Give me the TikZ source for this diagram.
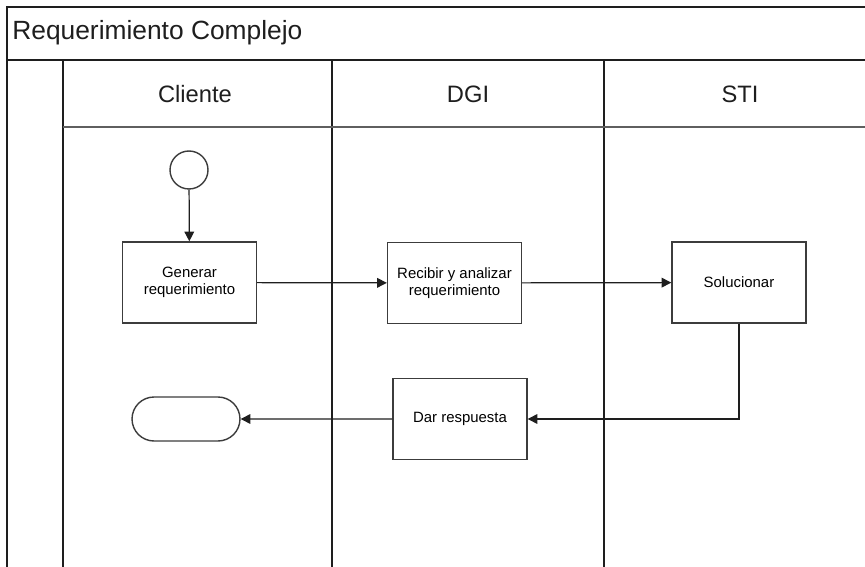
\documentclass[tikz,border=0pt]{standalone}
\usepackage{fontspec}
\setmainfont{Liberation Sans}
\usetikzlibrary{arrows.meta, shapes.misc}
\definecolor{lineK}{RGB}{30,30,30}
\definecolor{boxK}{RGB}{60,60,60}
\definecolor{hdrK}{RGB}{95,95,95}
\tikzset{
  lane/.style={lineK, line width=0.8pt},
  act/.style={draw=boxK, line width=0.8pt, minimum width=2.68cm, minimum height=1.62cm,
    align=center, inner sep=1pt, font=\fontsize{8.5}{9.8}\selectfont},
  flow/.style={lineK, line width=0.7pt, -{Triangle[length=5.5pt,width=5.5pt]}},
  hdr/.style={font=\fontsize{13.5}{16}\selectfont, text=lineK}
}

\begin{document}
\begin{tikzpicture}[x=0.02cm, y=-0.02cm]
\useasboundingbox (0,0) rectangle (865,567);
% pool frame and title bar
\draw[lane] (865,7) -- (7,7) -- (7,567);
\node[anchor=west, inner sep=0pt, font=\fontsize{15}{18}\selectfont, text=lineK] (title) at (12,33) {Requerimiento Complejo};
\draw[lineK, line width=1.4pt] (7,60) -- (865,60);
% lanes and their headers
\draw[lane] (63,60) -- (63,567);
\draw[lane] (332,60) -- (332,567);
\draw[lane] (604,60) -- (604,567);
\draw[hdrK, line width=0.8pt] (63,127) -- (865,127);
\node[hdr] (cliente) at (195,94) {Cliente};
\node[hdr] (dgi) at (468,94) {DGI};
\node[hdr] (sti) at (740,94) {STI};
% activities
\node[draw=boxK, line width=0.8pt, circle, minimum size=0.76cm, inner sep=0pt] (start) at (189,170) {};
\node[act] (gen) at (189.5,282.5) {Generar\\requerimiento};
\node[act] (rec) at (454.5,283) {Recibir y analizar\\requerimiento};
\node[act] (sol) at (739,282.5) {Solucionar};
\node[act] (resp) at (460,419) {Dar respuesta};
\node[draw=boxK, line width=0.8pt, rounded rectangle, minimum width=2.16cm, minimum height=0.88cm, inner xsep=0pt] (fin) at (186,419) {};
% flow
\draw[flow] (start) -- (gen);
\draw[flow] (gen) -- (rec);
\draw[flow] (rec) -- (sol);
\draw[flow] (sol.south) |- (resp.east);
\draw[flow] (resp) -- (fin);
\end{tikzpicture}
\end{document}
